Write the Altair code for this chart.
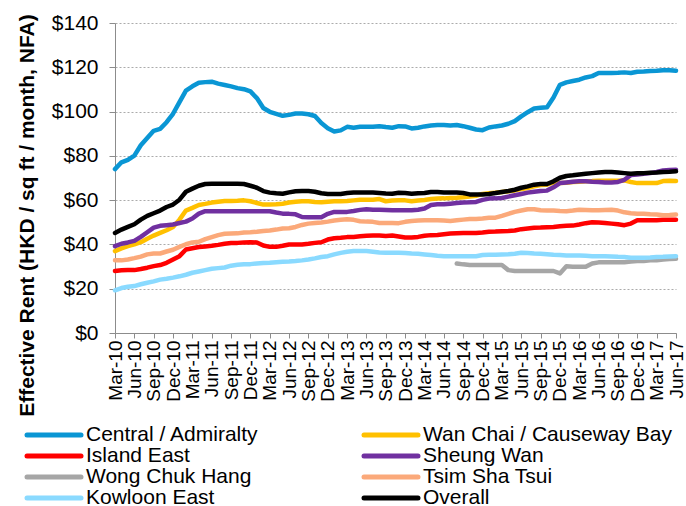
import altair as alt
import pandas as pd

# Monthly categories Mar-10 .. Jun-17 and quarterly tick labels
months = [d.strftime("%b-%y") for d in pd.date_range("2010-03-01", "2017-06-01", freq="MS")]
tick_labels = months[::3]
y_ticks = [0, 20, 40, 60, 80, 100, 120, 140]

series_names = [
    "Central / Admiralty", "Wan Chai / Causeway Bay",
    "Island East", "Sheung Wan",
    "Wong Chuk Hang", "Tsim Sha Tsui",
    "Kowloon East", "Overall",
]
series_colors = [
    "#0A96D4", "#FFC000",
    "#FF0000", "#7030A0",
    "#A6A6A6", "#FBA97A",
    "#8ADAFF", "#000000",
]

central = [
    74.0, 77.1, 78.2, 80.1, 84.8, 88.1, 91.3, 92.2, 95.2, 99.0, 104.3, 109.5,
    111.4, 113.0, 113.3, 113.5, 112.6, 112.0, 111.4, 110.6, 110.1, 109.1, 106.1, 101.6,
    99.9, 99.0, 98.1, 98.5, 99.1, 99.1, 98.8, 98.0, 94.8, 92.5, 91.0, 91.5,
    93.1, 92.7, 93.1, 93.1, 93.1, 93.4, 93.0, 92.7, 93.4, 93.3, 92.4, 92.7,
    93.3, 93.7, 93.9, 93.9, 93.7, 93.9, 93.4, 92.7, 91.9, 91.6, 92.8, 93.3,
    93.7, 94.5, 95.7, 97.8, 99.7, 101.4, 101.7, 102.0, 106.4, 112.1, 113.2, 113.8,
    114.4, 115.4, 116.0, 117.4, 117.4, 117.4, 117.5, 117.7, 117.4, 118.0, 118.1, 118.3,
    118.4, 118.7, 118.7, 118.4,
]
wan_chai = [
    37.0, 38.2, 39.2, 40.0, 41.0, 42.6, 44.0, 45.2, 46.4, 47.9, 51.2, 55.3,
    56.5, 57.8, 58.3, 58.9, 59.3, 59.6, 59.6, 59.7, 59.9, 59.5, 58.7, 58.0,
    58.0, 58.1, 58.4, 58.9, 59.3, 59.5, 59.5, 59.2, 59.0, 59.3, 59.5, 59.5,
    59.6, 59.9, 60.2, 60.2, 60.2, 60.5, 59.5, 59.8, 59.9, 59.9, 59.5, 59.8,
    60.1, 60.5, 60.7, 60.8, 61.0, 61.1, 61.3, 61.6, 62.0, 62.8, 63.1, 63.4,
    63.7, 64.0, 64.4, 65.0, 65.5, 66.2, 66.8, 67.0, 68.0, 67.7, 67.9, 68.2,
    68.3, 68.5, 68.6, 68.8, 68.8, 68.8, 68.8, 68.9, 68.2, 67.7, 67.7, 67.7,
    67.7, 68.6, 68.8, 68.6,
]
island_east = [
    28.0, 28.3, 28.4, 28.4, 28.9, 29.5, 30.2, 30.7, 31.7, 33.2, 34.7, 37.7,
    38.3, 38.8, 39.1, 39.4, 39.8, 40.3, 40.6, 40.7, 40.9, 41.0, 40.9, 39.5,
    38.9, 38.9, 39.4, 40.0, 40.0, 40.0, 40.3, 40.7, 41.0, 42.2, 42.8, 43.0,
    43.3, 43.4, 43.7, 43.9, 44.0, 44.0, 43.8, 44.0, 43.6, 43.1, 43.1, 43.4,
    43.9, 44.2, 44.3, 44.6, 44.9, 45.1, 45.2, 45.2, 45.2, 45.4, 45.7, 45.8,
    46.0, 46.1, 46.3, 46.9, 47.2, 47.5, 47.6, 47.8, 47.9, 48.2, 48.4, 48.5,
    49.0, 49.6, 50.0, 49.9, 49.7, 49.4, 49.1, 48.7, 49.4, 50.9, 50.9, 50.9,
    50.9, 51.1, 51.2, 51.2,
]
sheung_wan = [
    39.2, 40.3, 40.9, 41.6, 43.4, 45.5, 47.6, 48.4, 48.7, 49.0, 49.7, 50.3,
    51.7, 53.9, 55.0, 55.0, 55.0, 55.0, 55.0, 55.0, 55.0, 55.0, 55.0, 55.0,
    55.0, 54.4, 53.9, 53.8, 53.6, 52.4, 52.3, 52.3, 52.3, 53.8, 54.7, 54.7,
    54.7, 55.1, 55.6, 55.9, 55.7, 55.7, 55.6, 55.4, 55.4, 55.4, 55.4, 55.7,
    56.2, 57.8, 58.1, 58.1, 58.4, 58.7, 58.9, 59.0, 59.2, 60.1, 60.7, 60.8,
    61.0, 61.6, 62.2, 62.8, 63.4, 63.8, 64.1, 64.3, 65.8, 67.7, 68.0, 68.3,
    68.5, 68.5, 68.3, 68.2, 68.0, 68.0, 68.2, 69.2, 71.3, 71.6, 71.9, 72.2,
    72.7, 73.4, 73.6, 73.7,
]
wong_chuk_hang = [None] * 53 + [
    31.4, 31.0, 30.7, 30.7, 30.7, 30.7, 30.7,
    30.7, 28.4, 28.0, 28.0, 28.0, 28.0, 28.0, 28.0, 28.0, 26.9, 30.1, 29.9,
    29.9, 29.9, 31.4, 31.9, 32.0, 32.0, 32.0, 32.0, 32.3, 32.5, 32.5, 32.8,
    32.9, 33.2, 33.4, 33.5,
]
tsim_sha_tsui = [
    32.8, 32.8, 33.2, 33.8, 34.5, 35.5, 35.9, 35.9, 36.8, 37.6, 38.9, 40.1,
    40.9, 41.2, 42.4, 43.3, 44.2, 44.8, 44.9, 45.0, 45.4, 45.5, 45.7, 46.1,
    46.3, 46.7, 47.2, 47.3, 47.9, 48.8, 49.4, 49.7, 49.9, 50.3, 50.8, 51.1,
    51.4, 51.1, 50.5, 50.3, 50.2, 49.7, 49.7, 49.7, 49.6, 50.2, 50.6, 50.8,
    50.9, 50.9, 50.9, 50.8, 50.6, 50.9, 51.2, 51.5, 51.5, 51.7, 52.0, 52.1,
    52.9, 53.8, 54.7, 55.3, 55.9, 55.9, 55.4, 55.3, 55.3, 55.1, 55.0, 55.3,
    55.7, 55.6, 55.4, 55.4, 55.6, 55.7, 55.3, 54.5, 54.1, 53.9, 53.9, 53.6,
    53.5, 53.2, 53.3, 53.5,
]
kowloon_east = [
    19.3, 20.3, 20.9, 21.2, 22.0, 22.7, 23.3, 24.1, 24.5, 25.0, 25.6, 26.3,
    27.2, 27.8, 28.4, 29.0, 29.3, 29.6, 30.4, 30.8, 31.0, 31.1, 31.4, 31.6,
    31.7, 32.0, 32.2, 32.3, 32.5, 32.8, 33.2, 33.7, 34.3, 34.7, 35.5, 36.2,
    36.7, 37.0, 37.0, 37.0, 36.7, 36.4, 36.2, 36.2, 36.2, 36.1, 35.9, 35.8,
    35.5, 35.2, 34.9, 34.7, 34.7, 34.7, 34.7, 34.7, 34.7, 35.2, 35.3, 35.3,
    35.5, 35.6, 35.8, 36.2, 36.1, 35.9, 35.8, 35.6, 35.3, 35.2, 35.0, 35.0,
    35.0, 34.9, 34.7, 34.7, 34.7, 34.6, 34.4, 34.3, 34.0, 34.0, 34.0, 34.1,
    34.3, 34.4, 34.6, 34.7,
]
overall = [
    45.2, 46.7, 47.9, 49.1, 51.2, 52.9, 54.1, 55.3, 56.9, 58.0, 60.2, 63.8,
    65.2, 66.5, 67.3, 67.4, 67.4, 67.4, 67.4, 67.4, 67.3, 66.5, 65.6, 64.1,
    63.4, 63.1, 62.9, 63.5, 64.0, 64.1, 64.1, 63.8, 63.1, 62.8, 62.8, 62.8,
    63.2, 63.5, 63.5, 63.5, 63.4, 63.2, 63.0, 62.9, 63.3, 63.2, 62.9, 63.1,
    63.2, 63.7, 63.7, 63.5, 63.5, 63.5, 63.2, 62.6, 62.5, 62.5, 62.8, 63.2,
    63.7, 64.1, 64.7, 65.6, 66.2, 67.0, 67.3, 67.3, 68.5, 70.1, 70.9, 71.2,
    71.6, 71.9, 72.2, 72.5, 72.7, 72.7, 72.5, 72.2, 71.9, 72.1, 72.2, 72.4,
    72.5, 72.7, 72.8, 73.0,
]

series_values = [central, wan_chai, island_east, sheung_wan,
                 wong_chuk_hang, tsim_sha_tsui, kowloon_east, overall]

rows = []
for name, vals in zip(series_names, series_values):
    for m, v in zip(months, vals):
        if v is not None:
            rows.append({"Month": m, "Region": name, "Rent": v})
df = pd.DataFrame(rows)

# legend table: two columns, filled row by row
legend_df = pd.DataFrame({
    "Region": series_names,
    "col": [i % 2 for i in range(len(series_names))],
    "row": [i // 2 for i in range(len(series_names))],
})

FONT = "Liberation Sans"

color = alt.Color(
    "Region:N",
    sort=series_names,
    scale=alt.Scale(domain=series_names, range=series_colors),
    legend=None,
)

lines = alt.Chart(df).mark_line(
    strokeWidth=4.5, strokeJoin="round", strokeCap="round"
).encode(
    x=alt.X(
        "Month:O",
        sort=months,
        scale=alt.Scale(type="point", padding=0),
        axis=alt.Axis(
            values=tick_labels, labelAngle=270, title=None,
            labelFontSize=19, labelPadding=2, tickSize=5,
            grid=False, labelOverlap=False,
        ),
    ),
    y=alt.Y(
        "Rent:Q",
        scale=alt.Scale(domain=[0, 140], nice=False),
        axis=alt.Axis(
            values=y_ticks, format="$,.0f",
            title="Effective Rent (HKD / sq ft / month, NFA)",
            titleFontSize=21, titleFontWeight="bold",
            titleAngle=270, titleAlign="center", titleBaseline="alphabetic",
            titleX=-82, titleY=192,
            labelFontSize=21, labelPadding=11, tickSize=6,
            grid=True, gridDash=[2, 2], gridColor="#ABABAB", gridWidth=1,
        ),
    ),
    color=color,
    order=alt.Order("Region:N"),
)

leg_x = alt.X("col:Q", scale=alt.Scale(domain=[0, 1], range=[-61, 276]), axis=None)
leg_y = alt.Y("row:Q", scale=alt.Scale(domain=[0, 3], range=[412, 475]), axis=None)

legend_symbols = alt.Chart(legend_df).mark_point(
    shape="M-1,0H1", size=2916, filled=False, strokeWidth=5,
    strokeCap="round", opacity=1, clip=False,
).encode(x=leg_x, y=leg_y, color=color)

legend_labels = alt.Chart(legend_df).mark_text(
    align="left", baseline="middle", dx=32, fontSize=21, font=FONT,
    color="#000000", clip=False,
).encode(x=leg_x, y=leg_y, text="Region:N")

chart = alt.layer(lines, legend_symbols, legend_labels).resolve_scale(
    x="independent", y="independent"
).properties(
    width=561,
    height=310,
    autosize=alt.AutoSizeParams(type="none"),
    padding={"left": 115, "top": 23, "right": 10, "bottom": 173},
).configure_view(
    stroke=None
).configure_axis(
    labelFont=FONT, titleFont=FONT, labelColor="#000000", titleColor="#000000",
    domainColor="#8C8C8C", tickColor="#8C8C8C", domainWidth=1, tickWidth=1,
)

chart.save("out.html", embed_options={"renderer": "svg", "actions": False})
